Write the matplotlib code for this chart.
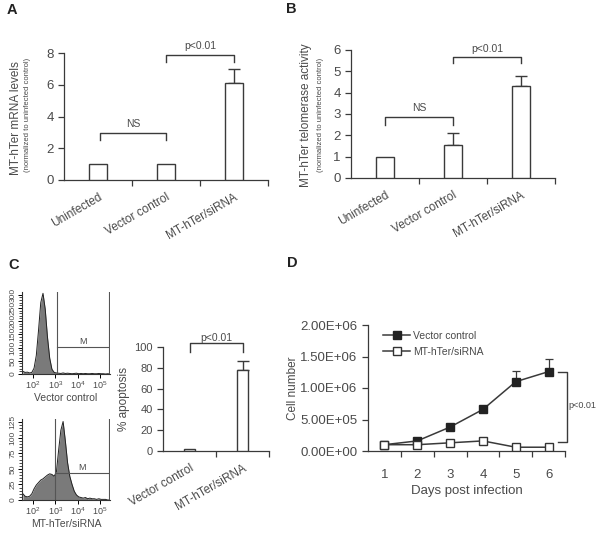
import numpy as np
import matplotlib
matplotlib.use("Agg")
import matplotlib.pyplot as plt
from matplotlib.ticker import FixedLocator, LogLocator, NullFormatter, FuncFormatter

plt.rcParams['font.family'] = ['Liberation Sans', 'DejaVu Sans']

# ---------------- data ----------------
a_categories = ["Uninfected", "Vector control", "MT-hTer/siRNA"]
a_values = [1.0, 1.0, 6.1]
a_errors = [0.0, 0.0, 0.9]

b_categories = ["Uninfected", "Vector control", "MT-hTer/siRNA"]
b_values = [1.0, 1.55, 4.3]
b_errors = [0.0, 0.55, 0.5]

c_categories = ["Vector control", "MT-hTer/siRNA"]
c_values = [1.5, 78.0]
c_errors = [0.0, 9.0]

hist_log_centers = [1.55, 1.65, 1.75, 1.85, 1.95, 2.05, 2.15, 2.25, 2.35, 2.45,
                    2.55, 2.65, 2.75, 2.85, 2.95, 3.05, 3.15, 3.25, 3.35, 3.45,
                    3.55, 3.65, 3.75, 3.85, 3.95, 4.05, 4.15, 4.25, 4.35, 4.45,
                    4.55, 4.65, 4.75, 4.85, 4.95, 5.05, 5.15, 5.25, 5.35, 5.45]
hist_vector_counts = [10, 6, 7, 4, 6, 22, 70, 165, 270, 305,
                      245, 140, 60, 18, 6, 4, 3, 2, 4, 2,
                      3, 2, 1, 2, 3, 1, 2, 1, 2, 1,
                      1, 2, 1, 1, 2, 1, 1, 0, 1, 0]
hist_sirna_counts = [10, 6, 5, 6, 10, 18, 24, 28, 32, 34,
                     37, 40, 42, 41, 38, 45, 80, 112, 126, 95,
                     60, 38, 25, 14, 8, 5, 4, 3, 4, 2,
                     3, 2, 2, 1, 2, 1, 1, 1, 0, 0]
hist_x_ticks = [1e2, 1e3, 1e4, 1e5]
hist_vector_yticks = [0, 50, 100, 150, 200, 250, 300]
hist_sirna_yticks = [0, 25, 50, 75, 100, 125]

d_days = [1, 2, 3, 4, 5, 6]
d_vector = [1.0e5, 1.6e5, 3.8e5, 6.6e5, 1.1e6, 1.26e6]
d_vector_err = [0.1e5, 0.1e5, 0.2e5, 0.3e5, 1.7e5, 2.0e5]
d_sirna = [1.0e5, 1.0e5, 1.3e5, 1.6e5, 0.6e5, 0.6e5]
d_yticks = [0, 5e5, 1e6, 1.5e6, 2e6]

# ---------------- style ----------------
W, H = 601, 537
TXT = '#4a4a4a'
LN = '#3a3a3a'
fig = plt.figure(figsize=(W / 100, H / 100), dpi=100)
fig.patch.set_facecolor('white')


def ax_px(l, t, r, b):
    return fig.add_axes([l / W, 1 - b / H, (r - l) / W, (b - t) / H])


def style_axes(ax, ysize=9.5):
    for s in ['top', 'right']:
        ax.spines[s].set_visible(False)
    for s in ['left', 'bottom']:
        ax.spines[s].set_color(LN)
        ax.spines[s].set_linewidth(0.9)
    ax.tick_params(axis='y', colors=LN, labelcolor=TXT, labelsize=ysize,
                   length=4, width=0.9, direction='out')


def bracket(ax, x1, x2, y, drop, text, tsize=7.5, tpad=0.0):
    ax.plot([x1, x1, x2, x2], [y - drop, y, y, y - drop], color=LN, lw=1.0,
            clip_on=False)
    ax.text((x1 + x2) / 2, y + tpad, text, ha='center', va='bottom',
            fontsize=tsize, color=TXT, clip_on=False)


def cat_bars(ax, cats, vals, errs, width, xlsize=8.5):
    x = np.arange(len(cats))
    ax.bar(x, vals, width=width, color='white', edgecolor=LN, linewidth=1.0,
           zorder=3)
    for xi, v, e in zip(x, vals, errs):
        if e > 0:
            ax.errorbar([xi], [v], yerr=[[0], [e]], fmt='none', ecolor=LN,
                        elinewidth=1.0, capsize=4, capthick=1.0, zorder=2)
    ax.set_xlim(-0.5, len(cats) - 0.5)
    ax.set_xticks(x)
    ax.set_xticklabels(cats, rotation=30, ha='right', rotation_mode='anchor',
                       fontsize=xlsize, color=TXT)
    ax.tick_params(axis='x', which='major', length=0, pad=8)
    ax.xaxis.set_minor_locator(FixedLocator(np.arange(len(cats)) + 0.5))
    ax.tick_params(axis='x', which='minor', length=4, width=0.9, colors=LN,
                   direction='out')


def panel_label(x, y, s):
    fig.text(x / W, 1 - y / H, s, fontsize=10.5, fontweight='bold',
             color='#222222', va='center', ha='left')


# ---------------- Panel A ----------------
axA = ax_px(64, 53, 268, 180)
style_axes(axA)
cat_bars(axA, a_categories, a_values, a_errors, 0.27)
axA.set_ylim(0, 8)
axA.set_yticks([0, 2, 4, 6, 8])
bracket(axA, 0.03, 1.0, 2.95, 0.45, "NS", tpad=0.25)
bracket(axA, 1.0, 2.0, 7.9, 0.45, "p<0.01", tpad=0.25)
fig.text(16 / W, 1 - 118 / H, "MT-hTer mRNA levels", rotation=90, ha='center',
         va='center', fontsize=8.5, color=TXT)
fig.text(28 / W, 1 - 115 / H, "(normalized to uninfected control)", rotation=90,
         ha='center', va='center', fontsize=5.5, color=TXT)
panel_label(7, 10, "A")

# ---------------- Panel B ----------------
axB = ax_px(351, 50, 555, 178)
style_axes(axB)
cat_bars(axB, b_categories, b_values, b_errors, 0.27)
axB.set_ylim(0, 6)
axB.set_yticks([0, 1, 2, 3, 4, 5, 6])
bracket(axB, 0.0, 1.0, 2.85, 0.35, "NS", tpad=0.2)
bracket(axB, 1.0, 2.0, 5.67, 0.3, "p<0.01", tpad=0.15)
fig.text(306 / W, 1 - 115 / H, "MT-hTer telomerase activity", rotation=90,
         ha='center', va='center', fontsize=8.5, color=TXT)
fig.text(320 / W, 1 - 115 / H, "(normalized to uninfected control)", rotation=90,
         ha='center', va='center', fontsize=5.5, color=TXT)
panel_label(286, 9, "B")

# ---------------- Panel C: histograms ----------------
def facs(ax, counts, yticks, ymax, gate_lo, gate_y, xlabel):
    xs = 10 ** np.array(hist_log_centers)
    ax.fill_between(xs, counts, 0, color='#7a7a7a', linewidth=0)
    ax.plot(xs, counts, color='#222222', lw=0.7)
    ax.set_xscale('log')
    ax.set_xlim(10 ** 1.51, 10 ** 5.45)
    ax.set_ylim(0, ymax)
    for s in ['top', 'right']:
        ax.spines[s].set_visible(False)
    for s in ['left', 'bottom']:
        ax.spines[s].set_color('#333333')
        ax.spines[s].set_linewidth(0.8)
    ax.set_xticks(hist_x_ticks)
    ax.xaxis.set_minor_locator(LogLocator(base=10, subs=np.arange(2, 10)))
    ax.xaxis.set_minor_formatter(NullFormatter())
    ax.tick_params(axis='x', which='major', labelsize=6.5, labelcolor=TXT,
                   length=3, width=0.7, pad=1)
    ax.tick_params(axis='x', which='minor', length=2, width=0.5)
    ax.set_yticks(yticks)
    ax.set_yticklabels([str(v) for v in yticks], rotation=90, va='center',
                       fontsize=6, color=TXT)
    ax.yaxis.set_minor_locator(FixedLocator(np.arange(0, ymax, yticks[1] / 5)))
    ax.tick_params(axis='y', which='major', length=3, width=0.7, pad=1)
    ax.tick_params(axis='y', which='minor', length=2, width=0.5)
    ax.axvline(gate_lo, color='#555555', lw=0.8)
    ax.axvline(10 ** 5.42, color='#555555', lw=0.8)
    ax.plot([gate_lo, 10 ** 5.42], [gate_y, gate_y], color='#555555', lw=0.8)
    ax.text(10 ** ((np.log10(gate_lo) + 5.42) / 2), gate_y * 1.03, "M",
            ha='center', va='bottom', fontsize=6.5, color=TXT)
    ax.set_xlabel(xlabel, fontsize=7.5, color=TXT, labelpad=1)


axC1 = ax_px(22, 292, 110, 374)
facs(axC1, hist_vector_counts, hist_vector_yticks, 310, 10 ** 3.07, 102,
     "Vector control")
axC2 = ax_px(22, 419, 110, 500)
facs(axC2, hist_sirna_counts, hist_sirna_yticks, 130, 10 ** 3.0, 44,
     "MT-hTer/siRNA")
panel_label(8, 265, "C")

# ---------------- Panel C: apoptosis bars ----------------
axC = ax_px(163, 347, 269, 451)
style_axes(axC, ysize=8)
cat_bars(axC, c_categories, c_values, c_errors, 0.22)
axC.set_ylim(0, 100)
axC.set_yticks([0, 20, 40, 60, 80, 100])
axC.set_ylabel("% apoptosis", fontsize=8.5, color=TXT, labelpad=3)
bracket(axC, 0.0, 1.0, 104, 9, "p<0.01", tpad=0)

# ---------------- Panel D ----------------
axD = ax_px(368, 325, 565, 451)
style_axes(axD, ysize=9.5)
axD.errorbar(d_days, d_vector, yerr=[np.zeros(len(d_vector_err)), d_vector_err],
             fmt='none', ecolor=LN, elinewidth=0.9, capsize=3, capthick=0.9,
             zorder=2)
axD.plot(d_days, d_vector, color=LN, lw=1.1, marker='s', markersize=5.5,
         markerfacecolor='#222222', markeredgecolor='#222222',
         label="Vector control", zorder=3)
axD.plot(d_days, d_sirna, color=LN, lw=1.1, marker='s', markersize=5.5,
         markerfacecolor='white', markeredgecolor='#333333',
         label="MT-hTer/siRNA", zorder=3)
axD.set_xlim(0.5, 6.5)
axD.set_ylim(0, 2e6)
axD.set_yticks(d_yticks)
axD.yaxis.set_major_formatter(FuncFormatter(lambda v, p: "%.2E" % v))
axD.set_xticks(d_days)
axD.tick_params(axis='x', which='major', length=0, pad=13, labelsize=9.5,
                labelcolor=TXT)
axD.xaxis.set_minor_locator(FixedLocator([1.5, 2.5, 3.5, 4.5, 5.5, 6.5]))
axD.tick_params(axis='x', which='minor', length=4, width=0.9, colors=LN)
axD.set_xlabel("Days post infection", fontsize=9.5, color=TXT, labelpad=3)
leg = axD.legend(loc='upper left', bbox_to_anchor=(0.03, 1.03), frameon=False,
                 fontsize=7.5, handlelength=2.6, handletextpad=0.3,
                 labelspacing=0.6, labelcolor=TXT)
# significance bracket at right
axD.plot([6.3, 6.55, 6.55, 6.3], [1.26e6, 1.26e6, 0.15e6, 0.15e6], color=LN,
         lw=1.0, clip_on=False)
axD.text(6.6, 0.72e6, "p<0.01", fontsize=6.5, color=TXT, va='center',
         ha='left', clip_on=False)
fig.text(293 / W, 1 - 388 / H, "Cell number", rotation=90, ha='center',
         va='center', fontsize=8.5, color=TXT)
panel_label(287, 263, "D")

fig.savefig("out.png", dpi=100, facecolor='white')
